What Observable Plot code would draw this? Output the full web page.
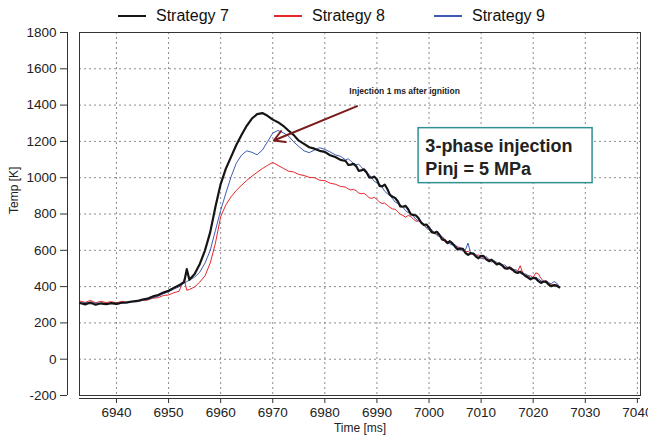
<!DOCTYPE html>
<html><head><meta charset="utf-8">
<script src="https://cdn.jsdelivr.net/npm/d3@7"></script>
<script src="https://cdn.jsdelivr.net/npm/@observablehq/plot@0.6"></script>
<style>
body{margin:0;background:#fff;font-family:"Liberation Sans",Arial,sans-serif;}
#wrap{position:relative;width:648px;height:441px;overflow:hidden;}
.item{position:absolute;top:7px;font-size:16px;line-height:18px;color:#111;display:flex;align-items:center;white-space:nowrap;}
.sw{display:inline-block;width:28px;height:2px;margin-right:10px;}
#chart{position:absolute;left:0;top:26px;}
</style></head><body>
<div id="wrap">
  <div id="legend"></div>
  <div id="chart"></div>
</div>
<script>
const seriesNames = ["Strategy 7", "Strategy 8", "Strategy 9"];
const seriesColors = ["#151515", "#e8262b", "#3b5db3"];
const seriesWidths = [2.2, 1, 1];
const legendLeft = [118, 274, 434];

// whole-millisecond samples
const times = [6933,6934,6935,6936,6937,6938,6939,6940,6941,6942,6943,6944,6945,6946,6947,6948,6949,6950,6951,6952,6953,6954,6955,6956,6957,6958,6959,6960,6961,6962,6963,6964,6965,6966,6967,6968,6969,6970,6971,6972,6973,6974,6975,6976,6977,6978,6979,6980,6981,6982,6983,6984,6985,6986,6987,6988,6989,6990,6991,6992,6993,6994,6995,6996,6997,6998,6999,7000,7001,7002,7003,7004,7005,7006,7007,7008,7009,7010,7011,7012,7013,7014,7015,7016,7017,7018,7019,7020,7021,7022,7023,7024,7025];

const strategy7 = [310,302,312,300,308,303,309,305,311,313,318,321,329,334,346,354,367,377,393,407,426,438,470,525,600,700,840,965,1050,1115,1180,1235,1286,1326,1350,1356,1341,1320,1306,1286,1260,1236,1204,1186,1168,1160,1148,1142,1124,1114,1098,1092,1072,1064,1040,1030,1000,990,952,938,895,870,840,826,795,776,740,726,695,686,655,650,620,610,585,584,565,570,550,548,522,518,498,494,475,472,450,448,430,428,410,408,396];

const strategy8 = [320,313,324,311,319,312,317,310,319,313,319,318,323,326,336,339,351,354,366,374,440,384,398,425,460,530,640,785,850,895,930,958,985,1008,1030,1050,1068,1084,1068,1052,1036,1032,1018,1012,1002,1000,986,984,970,964,952,948,932,928,912,904,886,880,858,848,828,812,792,792,772,762,738,724,698,684,662,644,622,614,592,584,572,568,548,544,528,522,506,500,482,476,458,450,470,430,422,410,398];

const strategy9 = [306,313,304,311,305,303,308,302,309,310,315,317,325,329,339,347,361,371,386,399,419,436,452,480,530,600,710,820,915,1005,1080,1124,1148,1140,1126,1152,1198,1246,1260,1248,1230,1198,1172,1148,1138,1152,1165,1156,1142,1126,1118,1098,1092,1072,1060,1026,998,972,948,912,884,858,838,808,788,762,744,712,698,676,660,636,632,604,604,580,576,556,566,536,534,516,508,490,488,466,462,444,442,426,418,428,402];

// half-millisecond samples (noisy part)
const midTimes = [6953.5,6984.5,6985.5,6986.5,6987.5,6988.5,6989.5,6990.5,6991.5,6992.5,6993.5,6994.5,6995.5,6996.5,6997.5,6998.5,6999.5,7000.5,7001.5,7002.5,7003.5,7004.5,7005.5,7006.5,7007.5,7008.5,7009.5,7010.5,7011.5,7012.5,7013.5,7014.5,7015.5,7016.5,7017.5,7018.5,7019.5,7020.5,7021.5,7022.5,7023.5,7024.5];

const strategy7Mid = [496,1070,1076,1038,1046,1002,1006,955,962,905,888,842,845,798,792,752,742,700,702,660,640,638,604,608,575,582,556,568,540,536,528,502,505,480,482,458,440,445,420,425,402,405];

const strategy8Mid = [380,938,936,916,914,890,892,866,860,836,826,798,782,786,760,754,726,712,688,676,648,634,620,600,594,576,574,556,552,532,530,510,508,488,515,462,460,476,444,432,412,408];

const strategy9Mid = [428,1104,1078,1074,1036,1018,980,966,925,904,866,852,818,802,770,758,722,712,682,672,640,628,615,596,640,584,566,552,548,540,520,520,496,494,474,470,450,452,432,434,416,420];

const xTicks = [6940,6950,6960,6970,6980,6990,7000,7010,7020,7030,7040];
const yTicks = [-200,0,200,400,600,800,1000,1200,1400,1600,1800];
const xDomain = [6932.9, 7040.6];
const yDomain = [-200, 1800];

const arrowNote = {label: "Injection 1 ms after ignition", tx: 6984.7, ty: 1477, x1: 6986.2, y1: 1394, x2: 6970.2, y2: 1205};
const boxNote = {lines: ["3-phase injection", "Pinj = 5 MPa"], x1: 6998, x2: 7031.4, y1: 970, y2: 1273, tx: 6999.3, ty: [1174, 1047]};

// legend
const legend = document.getElementById("legend");
seriesNames.forEach((n, i) => {
  const d = document.createElement("div");
  d.className = "item";
  d.style.left = legendLeft[i] + "px";
  d.innerHTML = `<span class="sw" style="background:${seriesColors[i]}"></span><span>${n}</span>`;
  legend.appendChild(d);
});

const seriesValues = [strategy7, strategy8, strategy9];
const seriesMid = [strategy7Mid, strategy8Mid, strategy9Mid];
const tables = seriesValues.map((vals, i) =>
  times.map((t, j) => ({t, v: vals[j]}))
    .concat(midTimes.map((t, j) => ({t, v: seriesMid[i][j]})))
    .sort((a, b) => a.t - b.t)
);

const lineMark = i => Plot.line(tables[i], {x: "t", y: "v", stroke: seriesColors[i], strokeWidth: seriesWidths[i], strokeLinejoin: "round"});

const chart = Plot.plot({
  width: 648, height: 415,
  marginTop: 6, marginBottom: 46, marginLeft: 79, marginRight: 8,
  style: {fontFamily: "'Liberation Sans', Arial, sans-serif", fontSize: "13.5px", color: "#222", background: "#fff"},
  x: {domain: xDomain, label: null},
  y: {domain: yDomain, label: null},
  marks: [
    Plot.gridX(xTicks, {stroke: "#8a8a8a", strokeOpacity: 1, strokeDasharray: "2,3"}),
    Plot.gridY(yTicks, {stroke: "#8a8a8a", strokeOpacity: 1, strokeDasharray: "2,3"}),
    Plot.frame({stroke: "#333"}),
    Plot.axisX(xTicks, {tickSize: 5, dy: 3, tickPadding: 4, tickFormat: d => String(d), stroke: "#333", label: null}),
    Plot.ruleY([yDomain[0]], {dy: 3, stroke: "#333"}),
    Plot.axisY(yTicks, {tickSize: 7, dx: -12, tickPadding: 4, tickFormat: d => String(d), stroke: "#333", label: null}),
    Plot.ruleX([xDomain[0]], {dx: -12, stroke: "#333"}),
    Plot.text(["Temp [K]"], {frameAnchor: "left", rotate: -90, dx: -65, fontSize: 12, fill: "#222"}),
    Plot.text(["Time [ms]"], {frameAnchor: "bottom", dy: 36, fontSize: 12, fill: "#222"}),
    lineMark(1),
    lineMark(2),
    lineMark(0),
    Plot.arrow([arrowNote], {x1: "x1", y1: "y1", x2: "x2", y2: "y2", stroke: "#7b1c1c", strokeWidth: 2, headLength: 9, bend: 0}),
    Plot.text([arrowNote], {x: "tx", y: "ty", text: "label", textAnchor: "start", fontWeight: "bold", fontSize: 8.5, fill: "#222"}),
    Plot.rect([boxNote], {x1: "x1", x2: "x2", y1: "y1", y2: "y2", fill: "white", stroke: "#2f9191", strokeWidth: 1.5}),
    Plot.text(boxNote.lines.map((l, i) => ({l, y: boxNote.ty[i]})), {x: boxNote.tx, y: "y", text: "l", textAnchor: "start", fontWeight: "bold", fontSize: 18, fill: "#222"})
  ]
});
document.getElementById("chart").appendChild(chart);
</script>
</body></html>
